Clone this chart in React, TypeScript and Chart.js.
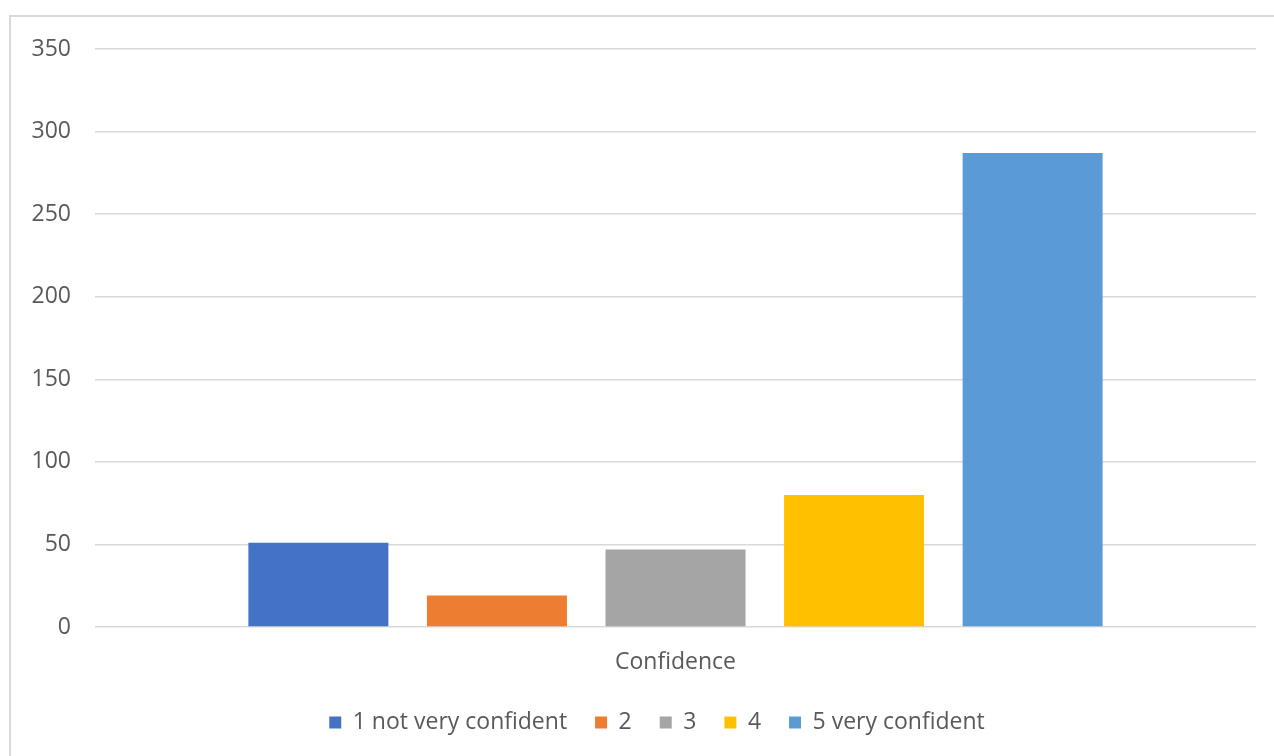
import React, { useEffect, useRef } from "react";
import { Chart, registerables } from "chart.js";

Chart.register(...registerables);

// Survey responses grouped under a single category
const categories = ["Confidence"];
const seriesNames = ["1 not very confident", "2", "3", "4", "5 very confident"];
const seriesValues = [51, 19, 47, 80, 287];
const seriesColors = ["#4472C4", "#ED7D31", "#A5A5A5", "#FFC000", "#5B9BD5"];
const yTicks = [0, 50, 100, 150, 200, 250, 300, 350];

const FONT = "'Open Sans', 'Noto Sans', sans-serif";
const TEXT = "#595959";
const GRID = "#d9d9d9";

// Nudge the legend row slightly to the right of the canvas centre
const legendOffset = {
  id: "legendOffset",
  afterLayout(chart: any) {
    const legend = chart.legend;
    if (legend) {
      legend.left += 19;
      legend.right += 19;
    }
  },
};

export default function App() {
  const canvasRef = useRef<HTMLCanvasElement | null>(null);

  useEffect(() => {
    const canvas = canvasRef.current;
    if (!canvas) return;
    const chart = new Chart(canvas, {
      type: "bar",
      data: {
        labels: categories,
        datasets: seriesNames.map((name, i) => ({
          label: name,
          data: [seriesValues[i]],
          backgroundColor: seriesColors[i],
          borderWidth: 0,
          categoryPercentage: 0.769,
          barPercentage: 0.784,
        })),
      },
      options: {
        responsive: false,
        animation: false,
        maintainAspectRatio: false,
        layout: { padding: { left: 20, right: 18, top: 49, bottom: 12 } },
        plugins: {
          tooltip: { enabled: false },
          legend: {
            position: "bottom",
            labels: {
              boxWidth: 12,
              boxHeight: 12,
              padding: 28,
              color: TEXT,
              font: { family: FONT, size: 23 },
            },
          },
        },
        scales: {
          x: {
            grid: { display: false },
            border: { display: false },
            afterFit: (scale: any) => {
              scale.height = 56;
            },
            ticks: {
              color: TEXT,
              padding: 14,
              font: { family: FONT, size: 23 },
            },
          },
          y: {
            min: 0,
            max: 350,
            afterBuildTicks: (scale: any) => {
              scale.ticks = yTicks.map((v) => ({ value: v }));
            },
            afterFit: (scale: any) => {
              scale.width = 75;
            },
            grid: { color: GRID, lineWidth: 1.5, drawTicks: false },
            border: { display: false },
            ticks: {
              color: TEXT,
              padding: 24,
              font: { family: FONT, size: 23 },
            },
          },
        },
      },
      plugins: [legendOffset],
    });
    return () => chart.destroy();
  }, []);

  return (
    <div
      style={{
        position: "fixed",
        left: 0,
        top: 0,
        width: 1274,
        height: 756,
        background: "#ffffff",
        overflow: "hidden",
      }}
    >
      <div
        style={{
          position: "absolute",
          left: 9,
          top: 15,
          width: 1300,
          height: 800,
          borderLeft: "2px solid #d9d9d9",
          borderTop: "2px solid #d9d9d9",
        }}
      />
      <canvas
        ref={canvasRef}
        width={1274}
        height={756}
        style={{ position: "absolute", left: 0, top: 0, width: 1274, height: 756 }}
      />
    </div>
  );
}
